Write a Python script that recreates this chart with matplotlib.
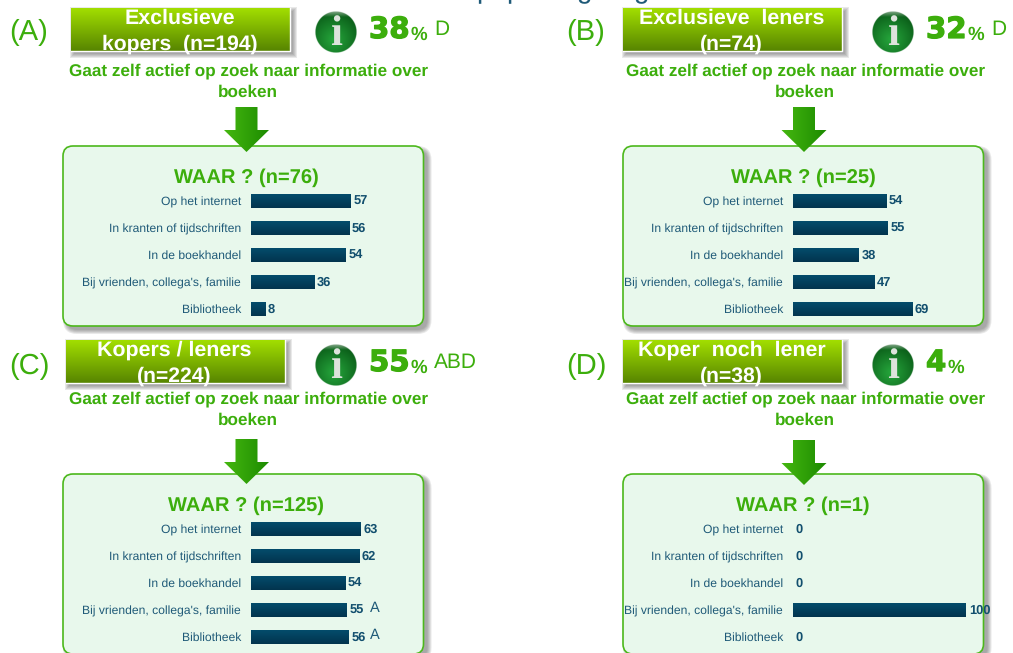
import numpy as np
import matplotlib
matplotlib.use('Agg')
import matplotlib.pyplot as plt
import matplotlib.patheffects as pe
from matplotlib.patches import FancyBboxPatch, Polygon, Rectangle

plt.rcParams['text.hinting'] = 'none'

W, H = 1013, 653

categories = ['Op het internet', 'In kranten of tijdschriften', 'In de boekhandel',
              "Bij vrienden, collega's, familie", 'Bibliotheek']

values_a = [57, 56, 54, 36, 8]
values_b = [54, 55, 38, 47, 69]
values_c = [63, 62, 54, 55, 56]
values_d = [0, 0, 0, 100, 0]

letters_c = ['', '', '', 'A', 'A']
no_letters = ['', '', '', '', '']

panel_ids = ['(A)', '(B)', '(C)', '(D)']
header_line1 = ['Exclusieve', 'Exclusieve  leners', 'Kopers / leners', 'Koper  noch  lener']
header_line2 = ['kopers  (n=194)', '(n=74)', '(n=224)', '(n=38)']
percents = ['38', '32', '55', '4']
percent_letters = ['D', 'D', 'ABD', '']
waar_titles = ['WAAR ? (n=76)', 'WAAR ? (n=25)', 'WAAR ? (n=125)', 'WAAR ? (n=1)']

# the title is cut off by the top edge, only these letters show their tails
title_letters = ['p', 'p', 'g', 'g']
title_x = [476, 506, 577, 634]

GREEN = '#3cae0c'
BLUE = '#1f5a78'
SANS = 'Liberation Sans'

fig = plt.figure(figsize=(W / 100, H / 100), dpi=100)
bg = fig.add_axes([0, 0, 1, 1])


def gradient(x0, y0, x1, y1, c0, c1, horizontal=False, clip=None, zorder=3, axis=None):
    # c0 -> c1 from top to bottom (or left to right)
    a = matplotlib.colors.to_rgb(c0)
    b = matplotlib.colors.to_rgb(c1)
    t = np.linspace(0, 1, 64)[:, None, None]
    img = (1 - t) * np.array(a)[None, None, :] + t * np.array(b)[None, None, :]
    if horizontal:
        img = img.transpose(1, 0, 2)
    target = axis if axis is not None else bg
    im = target.imshow(img, extent=(x0, x1, y1, y0), aspect='auto', zorder=zorder,
                       interpolation='bilinear')
    if clip is not None:
        im.set_clip_path(clip)
    return im


def soft_shadow(x, y, w, h, rounded=0):
    # a few stacked transparent boxes for the blurred shadow
    for grow in [4, 3, 2, 1, 0]:
        if rounded:
            patch = FancyBboxPatch((x - grow, y - grow), w + 2 * grow, h + 2 * grow,
                                   boxstyle=f'round,pad=0,rounding_size={rounded + grow}',
                                   fc='#555555', ec='none', alpha=0.13, zorder=1)
        else:
            patch = Rectangle((x - grow, y - grow), w + 2 * grow, h + 2 * grow,
                              fc='#555555', ec='none', alpha=0.13, zorder=1)
        bg.add_patch(patch)


def info_icon(cx, cy, r=21):
    n = 120
    xx, yy = np.meshgrid(np.linspace(-1, 1, n), np.linspace(-1, 1, n))
    d = np.hypot(xx + 0.1, yy - 0.35) / 1.35
    edge = np.hypot(xx, yy)
    inner = np.array(matplotlib.colors.to_rgb('#26a63c'))
    outer = np.array(matplotlib.colors.to_rgb('#0a5c18'))
    t = np.clip(d, 0, 1)[:, :, None]
    rgb = (1 - t) * inner + t * outer
    # grey shine along the top
    shine = np.clip((-yy - 0.72) * 2.5, 0, 0.7)[:, :, None]
    rgb = (1 - shine) * rgb + shine * np.array([0.75, 0.8, 0.75])
    img = np.dstack([rgb, np.clip((1 - edge) * 40, 0, 1)])
    bg.imshow(img, extent=(cx - r, cx + r, cy + r, cy - r), aspect='auto', zorder=4)
    bg.text(cx, cy + 3, 'i', family='Liberation Serif', weight='bold', fontsize=31,
            color='#dde3dc', ha='center', va='center', zorder=5)


def arrow(cx, top):
    pts = [(cx - 11, top), (cx + 11, top), (cx + 11, top + 23), (cx + 22.5, top + 23),
           (cx, top + 45), (cx - 22.5, top + 23), (cx - 11, top + 23)]
    shape = Polygon(pts, closed=True, fc='none', ec='none', transform=bg.transData)
    bg.add_patch(shape)
    gradient(cx - 23, top, cx + 23, top + 45, '#45b810', '#1c8a00', horizontal=True,
             clip=shape, zorder=6)


def bar_panel(x0, first_y, width, values, letters):
    row = 27
    ax = fig.add_axes([x0 / W, 1 - (first_y + 4.5 * row) / H, width / W, 5 * row / H])
    ax.patch.set_alpha(0)
    pos = np.arange(len(values))
    bars = ax.barh(pos, values, height=0.52, color='#004060')
    for b in bars:
        if b.get_width() > 0:
            gradient(0, b.get_y(), b.get_width(), b.get_y() + b.get_height(),
                     '#044e6e', '#02344e', clip=b, axis=ax, zorder=3)
    ax.set_xlim(0, 100)
    ax.set_ylim(4.5, -0.5)
    ax.set_yticks(pos)
    ax.set_yticklabels(categories, family=SANS, fontsize=8.7, color=BLUE, va='center_baseline')
    ax.tick_params(axis='y', length=0, pad=7.2)
    ax.set_xticks([])
    for s in ax.spines.values():
        s.set_visible(False)
    for i, v in enumerate(values):
        ax.text(v + 1.6, i + 0.03, str(v), family=SANS, weight='bold', fontsize=9.3,
                color='#124f6e', va='center', ha='left', clip_on=False, zorder=8)
        if letters[i]:
            ax.text(68, i - 0.08, letters[i], family=SANS, fontsize=10.5, color=BLUE,
                    va='center', ha='left', clip_on=False)
    return ax


label_x = [9, 566, 9, 566]
label_y = [33, 33, 367, 367]
header_x = [71, 623, 66, 623]
header_y = [8, 8, 340, 340]
icon_x = [336, 893, 336, 893]
icon_y = [32, 32, 365, 365]
pct_x = [369, 926, 369, 926]
pct_y = [30, 30, 363, 363]
sub_x = [249, 806, 249, 806]
sub_y = [71, 71, 399, 399]
arrow_x = [246.5, 804, 246.5, 804]
arrow_y = [107, 107, 439, 440]
box_x = [63, 623, 63, 623]
box_y = [146, 146, 474, 474]
bar_x = [251, 793, 251, 793]
bar_y = [201, 201, 529, 529]
bar_w = [175, 172.5, 174.5, 173]
all_values = [values_a, values_b, values_c, values_d]
all_letters = [no_letters, no_letters, letters_c, no_letters]

for letter, x in zip(title_letters, title_x):
    bg.text(x, -3, letter, family=SANS, fontsize=20, color=BLUE, ha='left', va='baseline')

for k in range(4):
    # rounded panel with the bars in it
    soft_shadow(box_x[k] + 4, box_y[k] + 4, 360.5, 180, rounded=10)
    bg.add_patch(FancyBboxPatch((box_x[k], box_y[k]), 360.5, 180,
                                boxstyle='round,pad=0,rounding_size=10',
                                fc='#e8f8ec', ec='#4cb81c', lw=1.2, zorder=2))
    bg.text(sub_x[k] - 3, box_y[k] + 32, waar_titles[k], family=SANS, weight='bold',
            fontsize=14.5, color=GREEN, ha='center', va='center', zorder=3)

    # header button
    soft_shadow(header_x[k] + 3, header_y[k] + 3, 219, 43)
    gradient(header_x[k], header_y[k], header_x[k] + 219, header_y[k] + 43,
             '#a2de00', '#578500', zorder=2)
    bg.plot([header_x[k], header_x[k] + 219, header_x[k] + 219],
            [header_y[k] + 43, header_y[k] + 43, header_y[k]],
            color='white', lw=1, zorder=3)
    cx = header_x[k] + 108.5
    top_clip = Rectangle((header_x[k] - 10, header_y[k]), 240, 60, transform=bg.transData)
    line1 = bg.text(cx, header_y[k] + 10, header_line1[k], family=SANS, weight='bold',
                    fontsize=15.4, color='white', ha='center', va='center', zorder=7)
    line1.set_clip_path(top_clip)
    bg.text(cx, header_y[k] + 36, header_line2[k], family=SANS, weight='bold', fontsize=15.2,
            color='white', ha='center', va='center', zorder=7)

    bg.text(label_x[k], label_y[k], panel_ids[k], family=SANS, fontsize=21, color=GREEN,
            ha='left', va='center')

    info_icon(icon_x[k], icon_y[k])

    # percentage, % sign, letters
    bg.text(pct_x[k], pct_y[k], percents[k], family='DejaVu Sans', weight='bold',
            fontsize=21, color=GREEN, ha='left', va='center',
            path_effects=[pe.withStroke(linewidth=0.9, foreground=GREEN)])
    n_digits = len(percents[k])
    bg.text(pct_x[k] + 20.5 * n_digits + 1, pct_y[k] + 5, '%', family=SANS, weight='bold',
            fontsize=13.5, color=GREEN, ha='left', va='center')
    if percent_letters[k]:
        bg.text(pct_x[k] + 65, pct_y[k], percent_letters[k], family=SANS, fontsize=15,
                color=GREEN, ha='left', va='center')

    bg.text(sub_x[k], sub_y[k], 'Gaat zelf actief op zoek naar informatie over',
            family=SANS, weight='bold', fontsize=12.3, color=GREEN, ha='center', va='center')
    bg.text(sub_x[k] - 1, sub_y[k] + 21, 'boeken', family=SANS, weight='bold', fontsize=12.3,
            color=GREEN, ha='center', va='center')

    arrow(arrow_x[k], arrow_y[k])

    bar_panel(bar_x[k], bar_y[k], bar_w[k], all_values[k], all_letters[k])

bg.set_xlim(0, W)
bg.set_ylim(H, 0)
bg.axis('off')

fig.savefig('out.png', dpi=100, facecolor='white')
